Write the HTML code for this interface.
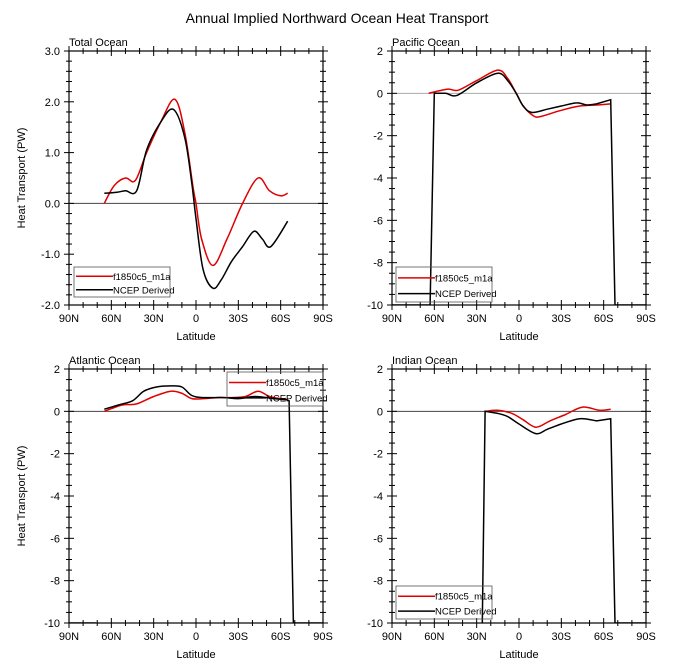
<!DOCTYPE html>
<html><head><meta charset="utf-8"><style>
html,body{margin:0;padding:0;background:#fff;}
svg{display:block;font-family:"Liberation Sans",sans-serif;}
</style></head><body>
<svg id="s" width="673" height="672" viewBox="0 0 673 672" xmlns="http://www.w3.org/2000/svg"></svg>
<script>
var s=document.getElementById('s'),h='';
h+='<text x="337" y="23" font-size="14" text-anchor="middle">Annual Implied Northward Ocean Heat Transport</text>';
function P(o){
 var L=o.x,T=o.y,W=254,H=254;
 function X(l){return L+(90-l)/180*W;}
 function Y(v){return T+H-(v-o.min)/(o.max-o.min)*H;}
 var g='';
 // clip
 g+='<clipPath id="c'+o.id+'"><rect x="'+L+'" y="'+T+'" width="'+W+'" height="'+H+'"/></clipPath>';
 g+='<line x1="'+L+'" x2="'+(L+W)+'" y1="'+Y(0)+'" y2="'+Y(0)+'" stroke="'+o.zc+'" stroke-width="1"/>';
 // ticks
 for(var l=-90;l<=90;l+=10){var x=X(l),maj=(l%30==0);var tl=maj?5:3;
  g+='<line x1="'+x+'" x2="'+x+'" y1="'+(T+H-tl)+'" y2="'+(T+H+tl)+'" stroke="#000"/>';
  g+='<line x1="'+x+'" x2="'+x+'" y1="'+(T-tl)+'" y2="'+(T+tl)+'" stroke="#000"/>';
  if(maj){var lab=l==0?'0':(Math.abs(l)+(l>0?'N':'S'));g+='<text x="'+x+'" y="'+(T+H+17)+'" font-size="11" text-anchor="middle">'+lab+'</text>';}}
 var n=Math.round((o.max-o.min)/o.mn);
 for(var i=0;i<=n;i++){var v=o.min+i*o.mn,y=Y(v),maj=Math.abs((v-o.min)/o.mj-Math.round((v-o.min)/o.mj))<1e-6;var tl=maj?5:3;
  g+='<line x1="'+(L-tl)+'" x2="'+(L+tl)+'" y1="'+y+'" y2="'+y+'" stroke="#000"/>';
  g+='<line x1="'+(L+W-tl)+'" x2="'+(L+W+tl)+'" y1="'+y+'" y2="'+y+'" stroke="#000"/>';
  if(maj)g+='<text x="'+(L-9)+'" y="'+(y+4)+'" font-size="11" text-anchor="end">'+(o.dec?v.toFixed(1):Math.round(v))+'</text>';}
 g+='<rect x="'+L+'" y="'+T+'" width="'+W+'" height="'+H+'" fill="none" stroke="#000" stroke-width="1.2"/>';
 g+='<text x="'+L+'" y="'+(T-5)+'" font-size="11">'+o.t+'</text>';
 g+='<text x="'+(L+W/2)+'" y="'+(T+H+35)+'" font-size="11" text-anchor="middle">Latitude</text>';
 if(o.yl)g+='<text transform="translate('+(L-44)+','+(T+H/2)+') rotate(-90)" font-size="11" text-anchor="middle">Heat Transport (PW)</text>';
 function path(pts,col,smooth){var p=pts.map(function(a){return [X(a[0]),Y(a[1]),a[2]];});
  var d='M'+p[0][0].toFixed(1)+','+p[0][1].toFixed(1);
  for(var i=0;i<p.length-1;i++){var p0=p[Math.max(0,i-1)],p1=p[i],p2=p[i+1],p3=p[Math.min(p.length-1,i+2)];
   if(p2[2]||p1[2]){d+='L'+p2[0].toFixed(1)+','+p2[1].toFixed(1);continue;}
   if(p3[2])p3=p2; if(i>0&&p[i-1][2]===undefined&&false)p0=p1;
   var c1x=p1[0]+(p2[0]-p0[0])/6,c1y=p1[1]+(p2[1]-p0[1])/6,c2x=p2[0]-(p3[0]-p1[0])/6,c2y=p2[1]-(p3[1]-p1[1])/6;
   d+='C'+c1x.toFixed(1)+','+c1y.toFixed(1)+' '+c2x.toFixed(1)+','+c2y.toFixed(1)+' '+p2[0].toFixed(1)+','+p2[1].toFixed(1);}
  return '<path d="'+d+'" fill="none" stroke="'+col+'" stroke-width="1.5" clip-path="url(#c'+o.id+')"/>';}
 g+=path(o.r,'#e00000');
 g+=path(o.b,'#000');
 if(o.b2)g+=path(o.b2,'#000');
 var lg=o.lg;
 g+='<rect x="'+lg[0]+'" y="'+lg[1]+'" width="96" height="'+lg[2]+'" fill="#fff" fill-opacity="0" stroke="#555" stroke-width="0.8"/>';
 var y1=lg[1]+lg[2]*0.31,y2=lg[1]+lg[2]*0.76;
 g+='<line x1="'+(lg[0]+2)+'" x2="'+(lg[0]+39)+'" y1="'+y1+'" y2="'+y1+'" stroke="#e00000" stroke-width="1.5"/>';
 g+='<line x1="'+(lg[0]+2)+'" x2="'+(lg[0]+39)+'" y1="'+y2+'" y2="'+y2+'" stroke="#000" stroke-width="1.5"/>';
 g+='<text x="'+(lg[0]+39)+'" y="'+(y1+3.5)+'" font-size="9.5">f1850c5_m1a</text>';
 g+='<text x="'+(lg[0]+39)+'" y="'+(y2+3.5)+'" font-size="9.5">NCEP Derived</text>';
 h+=g;}
P({id:1,x:69,y:51,min:-2,max:3,mj:1,mn:0.2,dec:1,zc:'#444',t:'Total Ocean',yl:1,lg:[74,267,30],
 r:[[65,0],[58,0.35],[50,0.5],[43,0.45],[35,1.0],[25,1.6],[15,2.05],[8,1.4],[2,0.3],[0,0],[-4,-0.7],[-12,-1.22],[-22,-0.7],[-33,0],[-44,0.5],[-52,0.25],[-60,0.15],[-65,0.2]],
 b:[[65,0.2],[56,0.22],[50,0.25],[42,0.25],[35,1.05],[25,1.6],[16,1.85],[8,1.3],[3,0.4],[0,-0.3],[-5,-1.3],[-12,-1.67],[-18,-1.5],[-25,-1.15],[-33,-0.85],[-41,-0.55],[-47,-0.7],[-53,-0.85],[-65,-0.35]]});
P({id:2,x:392,y:51,min:-10,max:2,mj:2,mn:0.5,dec:0,zc:'#aaa',t:'Pacific Ocean',yl:0,lg:[396,267,35],
 r:[[64,0],[58,0.1],[50,0.2],[43,0.15],[30,0.6],[15,1.1],[8,0.7],[2,0.0],[-3,-0.6],[-10,-1.05],[-15,-1.1],[-30,-0.8],[-43,-0.6],[-55,-0.55],[-65,-0.5]],
 b:[[90,-10,1],[63,-10,1],[60,0,1],[52,0],[44,-0.1],[30,0.5],[15,0.95],[8,0.6],[2,0],[-3,-0.6],[-9,-0.9],[-20,-0.75],[-30,-0.6],[-41,-0.45],[-48,-0.55],[-55,-0.5],[-65,-0.3,1],[-68,-10,1],[-90,-10,1]]});
P({id:3,x:69,y:369,min:-10,max:2,mj:2,mn:0.5,dec:0,zc:'#444',t:'Atlantic Ocean',yl:1,lg:[227,372,34],
 r:[[65,0],[55,0.25],[50,0.32],[42,0.35],[30,0.7],[18,0.95],[10,0.85],[3,0.6],[-5,0.6],[-15,0.65],[-25,0.65],[-35,0.7],[-44,0.95],[-52,0.7],[-60,0.6],[-64,0.6]],
 b:[[65,0.1],[55,0.3],[45,0.5],[37,0.95],[28,1.15],[18,1.2],[10,1.15],[3,0.75],[-5,0.65],[-20,0.65],[-30,0.6],[-42,0.7],[-55,0.6],[-64,0.55,1],[-66,0.5,1],[-69,-10,1],[-90,-10,1]],
 b2:[[90,-10,1],[71,-10,1]]});
P({id:4,x:392,y:369,min:-10,max:2,mj:2,mn:0.5,dec:0,zc:'#444',t:'Indian Ocean',yl:0,lg:[396,586,33],
 r:[[24,0],[15,0.05],[5,-0.1],[-3,-0.4],[-12,-0.75],[-22,-0.45],[-33,-0.15],[-45,0.2],[-57,0.05],[-65,0.1]],
 b:[[26,-10,1],[24,0,1],[15,-0.1],[8,-0.25],[0,-0.6],[-12,-1.05],[-20,-0.85],[-30,-0.6],[-43,-0.35],[-55,-0.45],[-65,-0.35,1],[-68,-10,1],[-90,-10,1]]});
s.innerHTML=h;
</script>
</body></html>
